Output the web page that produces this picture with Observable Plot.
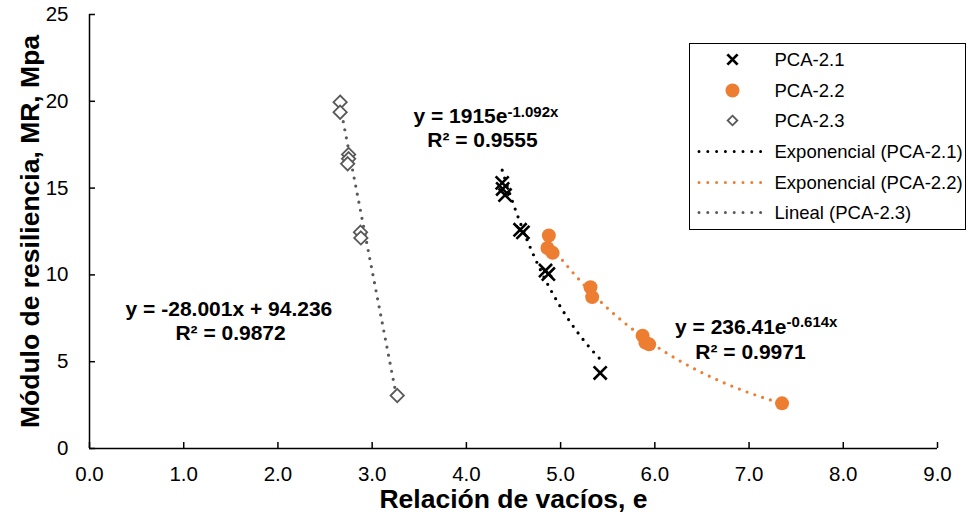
<!DOCTYPE html>
<html><head><meta charset="utf-8">
<script src="https://cdn.jsdelivr.net/npm/d3@7"></script>
<script src="https://cdn.jsdelivr.net/npm/@observablehq/plot@0.6"></script>
<style>
body{margin:0;background:#fff;}
#wrap{position:relative;width:968px;height:525px;font-family:"Liberation Sans",Arial,sans-serif;}
#legend{position:absolute;left:689px;top:43px;width:277px;height:187px;border:1.5px solid #000;box-sizing:border-box;background:#fff;}
#legend svg{display:block;}
</style></head><body><div id="wrap"><div id="chart"></div><div id="legend"></div></div>
<script>
// ---- data ----
const xTicks = [0, 1, 2, 3, 4, 5, 6, 7, 8, 9];
const xTickLabels = ["0.0", "1.0", "2.0", "3.0", "4.0", "5.0", "6.0", "7.0", "8.0", "9.0"];
const yTicks = [0, 5, 10, 15, 20, 25];
const yTickLabels = ["0", "5", "10", "15", "20", "25"];

const pca21E  = [4.38, 4.385, 4.41, 4.57, 4.60, 4.84, 4.87, 5.42];
const pca21MR = [15.3, 14.95, 14.6, 12.6, 12.45, 10.25, 10.05, 4.35];

const pca22E  = [4.875, 4.86, 4.915, 5.317, 5.335, 5.87, 5.90, 5.94, 7.35];
const pca22MR = [12.27, 11.55, 11.27, 9.29, 8.72, 6.5, 6.1, 6.0, 2.6];

const pca23E  = [2.66, 2.66, 2.75, 2.75, 2.74, 2.876, 2.88, 3.266];
const pca23MR = [19.95, 19.37, 16.94, 16.69, 16.4, 12.46, 12.13, 3.05];

const seriesNames = ["PCA-2.1", "PCA-2.2", "PCA-2.3"];
const trendNames = ["Exponencial (PCA-2.1)", "Exponencial (PCA-2.2)", "Lineal (PCA-2.3)"];
const expA = [1915, 236.41];
const expB = [-1.092, -0.614];
const linSlope = -28.001;
const linIntercept = 94.236;
const r2Values = [0.9555, 0.9971, 0.9872];
const xTitle = "Relación de vacíos, e";
const yTitle = "Módulo de resiliencia, MR, Mpa";

// ---- build ----
const C1 = "#000000", C2 = "#ED7D31", C3 = "#595959";
const rows = (E, M) => E.map((e, i) => ({e, mr: M[i]}));
const s21 = rows(pca21E, pca21MR), s22 = rows(pca22E, pca22MR), s23 = rows(pca23E, pca23MR);
const expTrend = (E, a, b) => {
  const [lo, hi] = d3.extent(E);
  return d3.range(0, 61).map(k => { const e = lo + (hi - lo) * k / 60; return {e, mr: a * Math.exp(b * e)}; });
};
const linTrend = (E, m, c) => d3.extent(E).map(e => ({e, mr: m * e + c}));
const t21 = expTrend(pca21E, expA[0], expB[0]);
const t22 = expTrend(pca22E, expA[1], expB[1]);
const t23 = linTrend(pca23E, linSlope, linIntercept);
const fmtR2 = v => "R² = " + v.toFixed(4);
const dotted = {strokeWidth: 3.2, strokeDasharray: "0 8.2", strokeLinecap: "round"};
const bold = {fontWeight: "bold", fill: "#000"};

const chart = Plot.plot({
  width: 968, height: 525,
  marginLeft: 89, marginRight: 31, marginTop: 14, marginBottom: 77,
  x: {domain: [0, 9]},
  y: {domain: [0, 25]},
  style: {fontFamily: "'Liberation Sans', Arial, sans-serif", color: "#000", background: "#fff", overflow: "visible"},
  marks: [
    Plot.ruleY([0], {strokeWidth: 1.5}),
    Plot.ruleX([0], {strokeWidth: 1.5}),
    Plot.axisX(xTicks, {anchor: "bottom", tickSize: -6, text: null, label: null, strokeWidth: 1.5}),
    Plot.axisX(xTicks, {anchor: "bottom", tickSize: 0, tickPadding: 18, fontSize: 20.5, label: null,
      tickFormat: d => xTickLabels[xTicks.indexOf(d)]}),
    Plot.axisY(yTicks, {anchor: "left", tickSize: -6, text: null, label: null, strokeWidth: 1.5}),
    Plot.axisY(yTicks, {anchor: "left", tickSize: 0, tickPadding: 21, fontSize: 20.5, label: null,
      tickFormat: d => yTickLabels[yTicks.indexOf(d)]}),
    Plot.line(t23, {x: "e", y: "mr", stroke: C3, ...dotted}),
    Plot.line(t21, {x: "e", y: "mr", stroke: C1, ...dotted}),
    Plot.line(t22, {x: "e", y: "mr", stroke: C2, ...dotted}),
    Plot.dot(s23, {x: "e", y: "mr", symbol: "diamond2", r: 6, stroke: C3, strokeWidth: 1.8, fill: "#fff"}),
    Plot.dot(s21, {x: "e", y: "mr", symbol: "times", r: 6, stroke: C1, strokeWidth: 2.6}),
    Plot.dot(s22, {x: "e", y: "mr", symbol: "circle", r: 7, fill: C2, stroke: "none"}),
    // equations
    Plot.text([0], {x: 4.436, y: 19.15, text: () => `y = ${expA[0]}e`, textAnchor: "end", fontSize: 21, ...bold}),
    Plot.text([0], {x: 4.436, y: 19.4, text: () => `${expB[0]}x`, textAnchor: "start", fontSize: 15, ...bold}),
    Plot.text([0], {x: 4.17, y: 17.76, text: () => fmtR2(r2Values[0]), fontSize: 21, ...bold}),
    Plot.text([0], {x: 7.398, y: 6.99, text: () => `y = ${expA[1]}e`, textAnchor: "end", fontSize: 21, ...bold}),
    Plot.text([0], {x: 7.398, y: 7.25, text: () => `${expB[1]}x`, textAnchor: "start", fontSize: 15, ...bold}),
    Plot.text([0], {x: 7.015, y: 5.55, text: () => fmtR2(r2Values[1]), fontSize: 21, ...bold}),
    Plot.text([0], {x: 1.48, y: 8.03, text: () => `y = ${linSlope.toFixed(3)}x + ${linIntercept.toFixed(3)}`, fontSize: 21, ...bold}),
    Plot.text([0], {x: 1.497, y: 6.65, text: () => fmtR2(r2Values[2]), fontSize: 21, ...bold}),
    // titles
    Plot.text([xTitle], {text: d => d, frameAnchor: "bottom", textAnchor: "middle", dy: 59.5, fontSize: 26.5, ...bold}),
    Plot.text([yTitle], {text: d => d, frameAnchor: "left", textAnchor: "middle", dx: -59, rotate: -90, fontSize: 26.5, ...bold})
  ]
});
document.getElementById("chart").appendChild(chart);

// ---- legend ----
const lg = d3.select("#legend").append("svg").attr("width", 274).attr("height", 184)
  .style("font-family", "'Liberation Sans', Arial, sans-serif");
const rowY = [15.5, 46.5, 76.5, 107.5, 138.5, 168.5];
const symX = 42.5, textX = 84.5;
const legendItems = [
  {label: seriesNames[0], kind: "times", color: C1},
  {label: seriesNames[1], kind: "circle", color: C2},
  {label: seriesNames[2], kind: "diamond", color: C3},
  {label: trendNames[0], kind: "line", color: C1},
  {label: trendNames[1], kind: "line", color: C2},
  {label: trendNames[2], kind: "line", color: C3}
];
legendItems.forEach((it, i) => {
  const y = rowY[i];
  if (it.kind === "line") {
    lg.append("line").attr("x1", 9).attr("x2", 71).attr("y1", y).attr("y2", y)
      .attr("stroke", it.color).attr("stroke-width", 3).attr("stroke-dasharray", "0 8.8").attr("stroke-linecap", "round");
  } else if (it.kind === "times") {
    lg.append("path").attr("d", d3.symbol(d3.symbolTimes, 70)()).attr("transform", `translate(${symX},${y})`)
      .attr("fill", "none").attr("stroke", it.color).attr("stroke-width", 2.8);
  } else if (it.kind === "circle") {
    lg.append("circle").attr("cx", symX).attr("cy", y).attr("r", 7).attr("fill", it.color);
  } else {
    lg.append("path").attr("d", d3.symbol(d3.symbolDiamond2, 60)()).attr("transform", `translate(${symX},${y})`)
      .attr("fill", "#fff").attr("stroke", it.color).attr("stroke-width", 1.8);
  }
  lg.append("text").attr("x", textX).attr("y", y).attr("dy", "0.35em").attr("font-size", 18.5).attr("fill", "#000").text(it.label);
});
</script>
</body></html>
